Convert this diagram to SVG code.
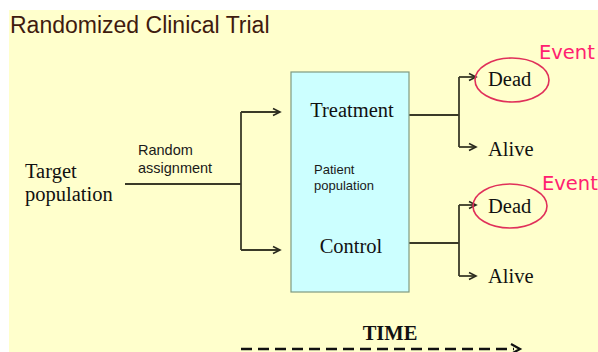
<svg xmlns="http://www.w3.org/2000/svg" width="598" height="352" viewBox="0 0 598 352">
  <defs>
    <marker id="arr" markerWidth="10" markerHeight="10" refX="8" refY="5" orient="auto" markerUnits="userSpaceOnUse">
      <path d="M1,1.5 L8,5 L1,8.5" fill="none" stroke="#2b2b1f" stroke-width="1.6"/>
    </marker>
  </defs>
  <style>
    .ln { fill: none; stroke: #3a3a28; stroke-width: 1.8; }
    .serif { font-family: "Liberation Serif", "Times New Roman", serif; fill: #111; font-size: 20.5px; }
    .sans { font-family: "Liberation Sans", Arial, sans-serif; fill: #1a1a1a; }
    .event { font-family: "DejaVu Sans", "Liberation Sans", sans-serif; fill: #ff2070; font-size: 19.5px; }
    .ring { fill: none; stroke: #e0305a; stroke-width: 1.6; }
  </style>
  <rect width="598" height="352" fill="#ffffff"/>
  <rect x="9" y="10" width="589" height="342" fill="#ffffcc"/>
  <text x="10" y="33" font-family="Liberation Sans, Arial, sans-serif" font-size="23" fill="#3f1b0e">Randomized Clinical Trial</text>

  <g id="connectors">
    <path class="ln" d="M125,184 H241"/>
    <path class="ln" d="M241,112 V250"/>
    <path class="ln" d="M241,112 H280" marker-end="url(#arr)"/>
    <path class="ln" d="M241,250 H280" marker-end="url(#arr)"/>
    <path class="ln" d="M409,115 H459"/>
    <path class="ln" d="M459,77 V147"/>
    <path class="ln" d="M459,77 H476" marker-end="url(#arr)"/>
    <path class="ln" d="M459,147 H476" marker-end="url(#arr)"/>
    <path class="ln" d="M409,243 H459"/>
    <path class="ln" d="M459,205 V276"/>
    <path class="ln" d="M459,205 H476" marker-end="url(#arr)"/>
    <path class="ln" d="M459,276 H476" marker-end="url(#arr)"/>
  </g>

  <g id="target">
    <text class="serif" x="25" y="178">Target</text>
    <text class="serif" x="25" y="201">population</text>
  </g>
  <g id="random-assignment">
    <text class="sans" x="138" y="155" font-size="14.5">Random</text>
    <text class="sans" x="138" y="173" font-size="14.5">assignment</text>
  </g>

  <g id="patient-population">
    <rect x="291" y="72" width="118" height="220" fill="#ccffff" stroke="#7f9a80" stroke-width="1.2"/>
    <text class="serif" x="352" y="117" font-size="21" text-anchor="middle">Treatment</text>
    <text class="sans" x="314" y="174" font-size="13">Patient</text>
    <text class="sans" x="314" y="190" font-size="13">population</text>
    <text class="serif" x="351" y="253" text-anchor="middle">Control</text>
  </g>

  <g id="treatment-dead">
    <ellipse class="ring" cx="512" cy="80" rx="37" ry="22"/>
    <text class="serif" x="488" y="86">Dead</text>
    <text class="event" x="539" y="59">Event</text>
  </g>
  <g id="treatment-alive">
    <text class="serif" x="488" y="156">Alive</text>
  </g>
  <g id="control-dead">
    <ellipse class="ring" cx="510" cy="206" rx="37" ry="22"/>
    <text class="serif" x="488" y="213">Dead</text>
    <text class="event" x="542" y="190">Event</text>
  </g>
  <g id="control-alive">
    <text class="serif" x="488" y="283">Alive</text>
  </g>

  <g id="time">
    <text class="serif" x="390" y="340" font-size="18.5" font-weight="bold" text-anchor="middle">TIME</text>
    <path d="M241,349 H514" fill="none" stroke="#111" stroke-width="2.6" stroke-dasharray="11,6"/>
    <path d="M511,344 L520,349 L511,354" fill="none" stroke="#111" stroke-width="2.2"/>
  </g>
</svg>
